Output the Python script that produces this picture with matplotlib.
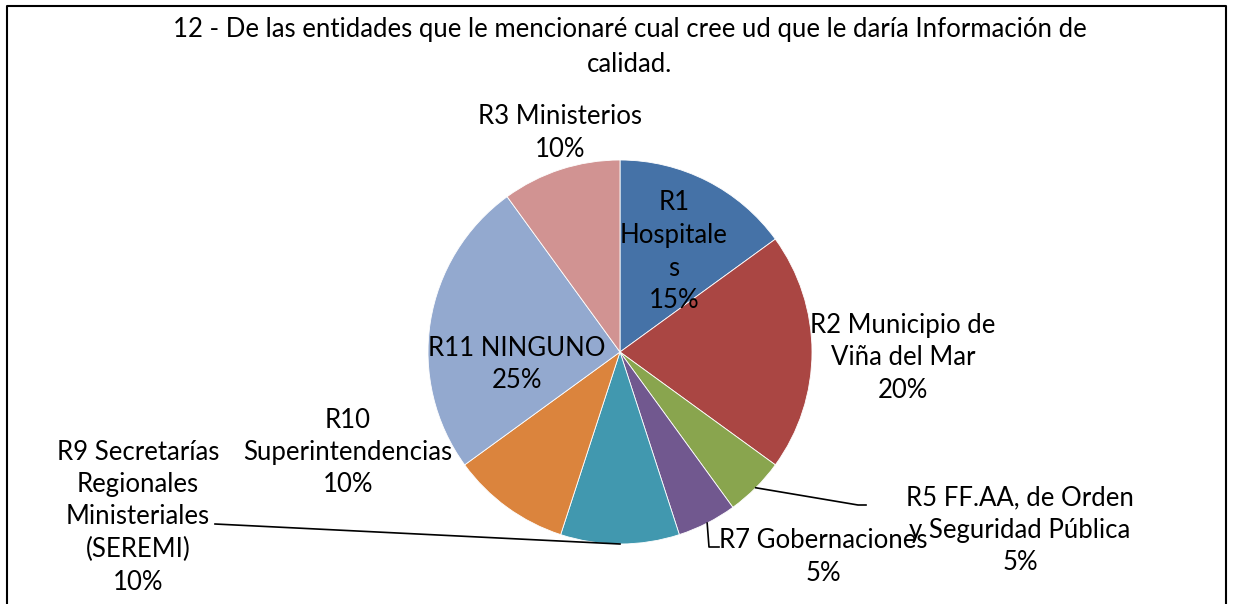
import numpy as np
import matplotlib
matplotlib.use("Agg")
import matplotlib.pyplot as plt

plt.rcParams["font.family"] = ["Lato", "DejaVu Sans"]

# data (clockwise from 12 o'clock)
labels = ["R1\nHospitale\ns", "R2 Municipio de\nViña del Mar", "R5 FF.AA, de Orden\ny Seguridad Pública",
          "R7 Gobernaciones", "R9 Secretarías\nRegionales\nMinisteriales\n(SEREMI)",
          "R10\nSuperintendencias", "R11 NINGUNO", "R3 Ministerios"]
values = [15, 20, 5, 5, 10, 10, 25, 10]
colors = ["#4572A7", "#AA4643", "#89A54E", "#71588F", "#4198AF", "#DB843D", "#93A9CF", "#D19392"]

title = "12 - De las entidades que le mencionaré cual cree ud que le daría Información de\ncalidad."

# label centres in pixels (x, y of top line)
label_pos = [(674, 203), (903, 325), (1020, 498), (823, 541), (138, 452), (348, 420), (517, 348), (560, 117)]
# leader lines: (elbow, end) for labels placed outside
leaders = {2: [(858, 505), (866, 505)], 3: [(709, 547), (719, 547)], 4: [(215, 524)]}

W, H = 1233, 604
fig = plt.figure(figsize=(W / 100, H / 100), dpi=100)
ax = fig.add_axes([0, 0, 1, 1])

cx, cy, r = 620, 352, 192
wedges, _ = ax.pie(values, colors=colors, center=(cx, cy), radius=r, startangle=-90,
                   counterclock=True, wedgeprops=dict(edgecolor="white", linewidth=0.6))
ax.set_xlim(0, W)
ax.set_ylim(H, 0)
ax.set_aspect("auto")
ax.axis("off")

fs = 18.5
ls = 32.5
for i, (lab, v) in enumerate(zip(labels, values)):
    x, y = label_pos[i]
    lines = lab.split("\n") + [f"{v}%"]
    for k, t in enumerate(lines):
        ax.text(x, y + k * ls, t, ha="center", va="center", fontsize=fs, color="black")

for i, pts in leaders.items():
    w = wedges[i]
    mid = np.deg2rad((w.theta1 + w.theta2) / 2)
    sx, sy = cx + r * np.cos(mid), cy + r * np.sin(mid)
    xs = [sx] + [p[0] for p in pts]
    ys = [sy] + [p[1] for p in pts]
    ax.plot(xs, ys, color="black", lw=1.2)

t1, t2 = title.split("\n")
ax.text(630, 30, t1, ha="center", va="center", fontsize=fs)
ax.text(630, 65, t2, ha="center", va="center", fontsize=fs)

# chart frame
ax.plot([7, 7, 1226, 1226], [W, 6, 6, W], color="black", lw=1.5, clip_on=False)

fig.savefig("out.png", dpi=100)
